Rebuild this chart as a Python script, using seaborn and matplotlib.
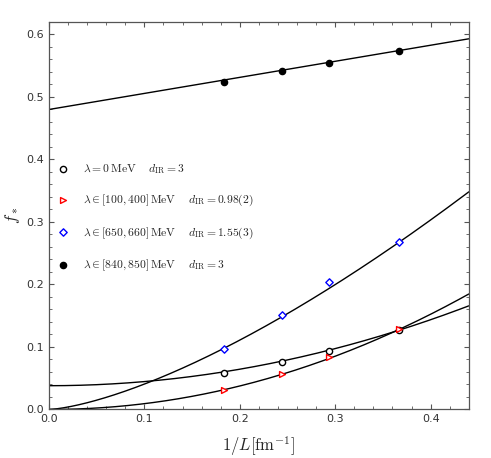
import numpy as np
import pandas as pd
import matplotlib
matplotlib.use("Agg")
import matplotlib.pyplot as plt
import seaborn as sns
from matplotlib.ticker import MultipleLocator

sns.set_style("ticks")
plt.rcParams['font.family'] = ['DejaVu Sans']
plt.rcParams['mathtext.fontset'] = 'cm'

# data points (1/L in fm^-1, f_*)
inv_L = [0.1836, 0.2447, 0.2939, 0.3672]
f_lam0 = [0.058, 0.0765, 0.093, 0.127]
f_lam100 = [0.0307, 0.0573, 0.0845, 0.1288]
f_lam650 = [0.0973, 0.1517, 0.2045, 0.268]
f_lam840 = [0.524, 0.542, 0.554, 0.5728]

labels = [r"$\lambda = 0\,\mathrm{MeV}\quad\ d_{\mathrm{IR}} = 3$",
          r"$\lambda \in [100,400]\,\mathrm{MeV}\quad\ d_{\mathrm{IR}} = 0.98(2)$",
          r"$\lambda \in [650,660]\,\mathrm{MeV}\quad\ d_{\mathrm{IR}} = 1.55(3)$",
          r"$\lambda \in [840,850]\,\mathrm{MeV}\quad\ d_{\mathrm{IR}} = 3$"]

# fit curves: f = a + b * x**p
fit_a = [0.038, 0.0, 0.0, 0.480]
fit_b = [0.66, 0.97, 1.145, 0.257]
fit_p = [2.0, 2.02, 1.45, 1.0]

fig = plt.figure(figsize=(4.91, 4.58), dpi=100)
ax = fig.add_axes([0.0998, 0.106, 0.855, 0.846])

xs = np.linspace(0, 0.44, 400)
for a, b, p in zip(fit_a, fit_b, fit_p):
    df = pd.DataFrame({"x": xs, "y": a + b * xs ** p})
    sns.lineplot(data=df, x="x", y="y", ax=ax, color="black", lw=1.0, zorder=2)

series = [f_lam0, f_lam100, f_lam650, f_lam840]
styles = [dict(marker="o", facecolor="white", edgecolor="black", s=20),
          dict(marker=">", facecolor="white", edgecolor="red", s=18),
          dict(marker="D", facecolor="white", edgecolor="blue", s=14),
          dict(marker="o", facecolor="black", edgecolor="black", s=20)]
for vals, st, lab in zip(series, styles, labels):
    df = pd.DataFrame({"x": inv_L, "y": vals})
    sns.scatterplot(data=df, x="x", y="y", ax=ax, marker=st["marker"],
                    facecolor=st["facecolor"], edgecolor=st["edgecolor"],
                    s=st["s"], linewidth=1.0, zorder=3, label=lab)

ax.set_xlim(0, 0.44)
ax.set_ylim(0, 0.62)
ax.xaxis.set_major_locator(MultipleLocator(0.1))
ax.xaxis.set_minor_locator(MultipleLocator(0.02))
ax.yaxis.set_major_locator(MultipleLocator(0.1))
ax.yaxis.set_minor_locator(MultipleLocator(0.02))
ax.tick_params(which="both", direction="in", top=True, right=True,
               colors="#555555", labelcolor="#333333", labelsize=8)
ax.tick_params(which="major", length=3.5, width=0.8)
ax.tick_params(which="minor", length=2, width=0.6)
for s in ax.spines.values():
    s.set_color("#555555")
    s.set_linewidth(0.9)

ax.set_xlabel(r"$1/L[\mathrm{fm}^{-1}]$", fontsize=12, labelpad=7)
ax.set_ylabel(r"$f_*$", fontsize=12, labelpad=3)

leg = ax.legend(loc="upper left", bbox_to_anchor=(0.0, 0.66), frameon=False,
                fontsize=8.4, labelspacing=1.46, handlelength=1.0,
                handletextpad=1.2, borderaxespad=0.3)

fig.savefig("out.png", dpi=100)
